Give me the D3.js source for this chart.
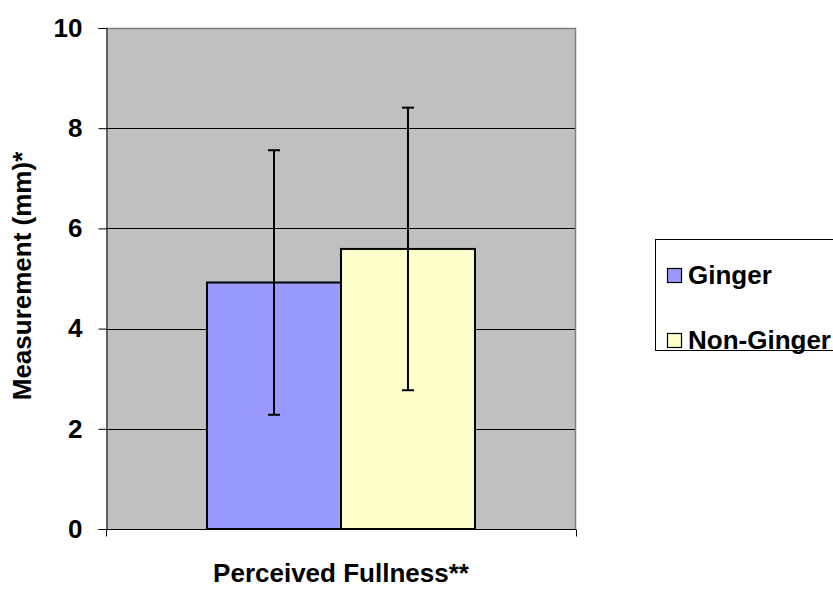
<!DOCTYPE html>
<html>
<head>
<meta charset="utf-8">
<script src="https://cdn.jsdelivr.net/npm/d3@7/dist/d3.min.js"></script>
<style>
  html, body { margin: 0; padding: 0; background: #fff; }
  svg { display: block; font-family: "Liberation Sans", Arial, sans-serif; font-weight: bold; }
</style>
</head>
<body>
<svg id="chart" width="833" height="589"></svg>
<script>
const categories = ["Perceived Fullness**"];
const seriesNames = ["Ginger", "Non-Ginger"];
const seriesValues = [4.92, 5.59];
const errorValues = [2.64, 2.82];
const seriesColors = ["#9999FF", "#FFFFCC"];
const yTicks = [0, 2, 4, 6, 8, 10];

const FS = 26;
const svg = d3.select("#chart");
const plot = { left: 106, right: 576, top: 28, bottom: 529 };

const y = d3.scaleLinear().domain([0, 10]).range([plot.bottom, plot.top]);
const x0 = d3.scaleBand().domain(categories).range([plot.left, plot.right]).paddingInner(0).paddingOuter(0.377);
const x1 = d3.scaleBand().domain(seriesNames).range([0, x0.bandwidth()]).padding(0);

// plot background
svg.append("rect")
  .attr("x", plot.left).attr("y", plot.top)
  .attr("width", plot.right - plot.left).attr("height", plot.bottom - plot.top)
  .attr("fill", "#C0C0C0");

// gridlines
svg.append("g").selectAll("line")
  .data(yTicks.filter(t => t > 0 && t < 10))
  .join("line")
  .attr("x1", plot.left).attr("x2", plot.right)
  .attr("y1", d => Math.round(y(d)) + 0.5).attr("y2", d => Math.round(y(d)) + 0.5)
  .attr("stroke", "#000").attr("stroke-width", 1);

// plot border top & right (gray)
svg.append("path")
  .attr("d", `M${plot.left},${plot.top + 0.5}H${plot.right - 0.5}V${plot.bottom}`)
  .attr("fill", "none").attr("stroke", "#808080").attr("stroke-width", 1.5);

// y axis
const yAxis = d3.axisLeft(y).tickValues(yTicks).tickSize(8).tickPadding(16).tickFormat(d3.format("d"));
const gy = svg.append("g").attr("transform", `translate(${plot.left + 0.5},0)`).call(yAxis);
gy.select(".domain").attr("stroke", "#000");
gy.selectAll(".tick line").attr("stroke", "#000");
gy.selectAll(".tick text")
  .attr("font-size", FS).attr("font-weight", "bold")
  .attr("font-family", "Liberation Sans, Arial, sans-serif").attr("fill", "#000");

// x axis
const gx = svg.append("g").attr("transform", `translate(0,${plot.bottom + 0.5})`);
gx.append("line").attr("x1", plot.left).attr("x2", plot.right).attr("stroke", "#000");
gx.selectAll("line.tk").data([plot.left, plot.right]).join("line").attr("class", "tk")
  .attr("x1", d => d + 0.5).attr("x2", d => d + 0.5).attr("y1", 0).attr("y2", 7).attr("stroke", "#000");

// bars
const groups = svg.append("g").selectAll("g")
  .data(categories).join("g")
  .attr("transform", d => `translate(${x0(d)},0)`);

groups.selectAll("rect")
  .data(seriesNames.map((s, i) => ({ s, v: seriesValues[i], e: errorValues[i], c: seriesColors[i] })))
  .join("rect")
  .attr("x", d => x1(d.s)).attr("y", d => y(d.v))
  .attr("width", x1.bandwidth()).attr("height", d => y(0) - y(d.v))
  .attr("fill", d => d.c).attr("stroke", "#000").attr("stroke-width", 2);

// error bars
const eb = groups.selectAll("g.err")
  .data(seriesNames.map((s, i) => ({ s, v: seriesValues[i], e: errorValues[i] })))
  .join("g").attr("class", "err");
eb.append("line")
  .attr("x1", d => x1(d.s) + x1.bandwidth() / 2).attr("x2", d => x1(d.s) + x1.bandwidth() / 2)
  .attr("y1", d => y(d.v + d.e)).attr("y2", d => y(d.v - d.e))
  .attr("stroke", "#000").attr("stroke-width", 2);
eb.append("line")
  .attr("x1", d => x1(d.s) + x1.bandwidth() / 2 - 6).attr("x2", d => x1(d.s) + x1.bandwidth() / 2 + 6)
  .attr("y1", d => y(d.v + d.e)).attr("y2", d => y(d.v + d.e))
  .attr("stroke", "#000").attr("stroke-width", 2);
eb.append("line")
  .attr("x1", d => x1(d.s) + x1.bandwidth() / 2 - 6).attr("x2", d => x1(d.s) + x1.bandwidth() / 2 + 6)
  .attr("y1", d => y(d.v - d.e)).attr("y2", d => y(d.v - d.e))
  .attr("stroke", "#000").attr("stroke-width", 2);

// axis titles
svg.append("text")
  .attr("transform", `translate(31,276) rotate(-90)`)
  .attr("text-anchor", "middle").attr("font-size", FS).attr("fill", "#000")
  .text("Measurement (mm)*");
svg.append("text")
  .attr("x", (plot.left + plot.right) / 2).attr("y", 582)
  .attr("text-anchor", "middle").attr("font-size", FS).attr("fill", "#000")
  .text(categories[0]);

// legend
const lg = svg.append("g");
lg.append("rect").attr("x", 655.5).attr("y", 239.5).attr("width", 200).attr("height", 111)
  .attr("fill", "#fff").attr("stroke", "#000").attr("stroke-width", 1);
const items = lg.selectAll("g.item")
  .data(seriesNames.map((s, i) => ({ s, c: seriesColors[i] })))
  .join("g").attr("class", "item")
  .attr("transform", (d, i) => `translate(0,${276 + i * 65})`);
items.append("rect").attr("x", 667.5).attr("y", -7.5).attr("width", 14).attr("height", 14)
  .attr("fill", d => d.c).attr("stroke", "#000").attr("stroke-width", 1.2);
items.append("text").attr("x", 688).attr("y", 8).attr("font-size", FS).attr("fill", "#000")
  .text(d => d.s);
</script>
</body>
</html>
